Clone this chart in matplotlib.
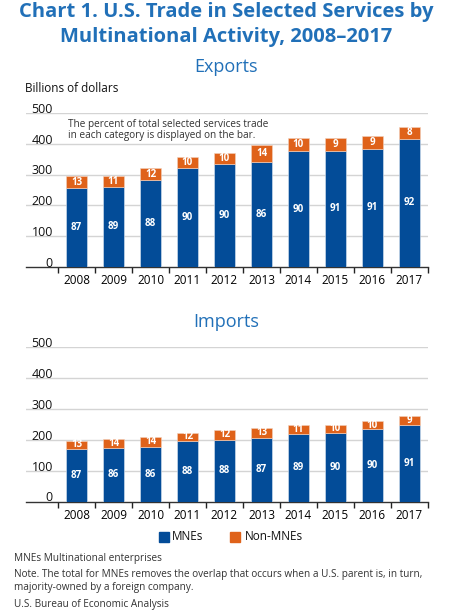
import numpy as np
import matplotlib.pyplot as plt

plt.rcParams['font.family'] = ['Open Sans', 'DejaVu Sans']

years = ['2008', '2009', '2010', '2011', '2012', '2013', '2014', '2015', '2016', '2017']

exp_mne = [256, 261, 282, 320, 333, 340, 375, 378, 384, 416]
exp_non = [38, 35, 38, 38, 38, 56, 43, 40, 40, 39]
exp_pct_mne = [87, 89, 88, 90, 90, 86, 90, 91, 91, 92]
exp_pct_non = [13, 11, 12, 10, 10, 14, 10, 9, 9, 8]

imp_mne = [171, 175, 178, 196, 201, 206, 220, 223, 235, 249]
imp_non = [26, 28, 31, 28, 30, 33, 28, 26, 26, 28]
imp_pct_mne = [87, 86, 86, 88, 88, 87, 89, 90, 90, 91]
imp_pct_non = [13, 14, 14, 12, 12, 13, 11, 10, 10, 9]

blue = '#034C98'
orange = '#DF621A'
title_blue = '#2170B8'

W, H = 452, 610
fig = plt.figure(figsize=(W / 100, H / 100), dpi=100)


def panel(bottom_px, top_px, mne, non, pct_mne, pct_non, show_note):
    ax = fig.add_axes([26 / W, 1 - bottom_px / H, (428 - 26) / W, (bottom_px - top_px) / H])
    x = np.arange(len(years))
    ax.bar(x, mne, width=0.59, color=blue, edgecolor='#dce6f2', linewidth=0.4, zorder=3)
    ax.bar(x, non, bottom=mne, width=0.59, color=orange, edgecolor='#f3d2bd', linewidth=0.4, zorder=3)
    for i in range(len(x)):
        ax.text(x[i], mne[i] / 2, str(pct_mne[i]), color='white', fontsize=7,
                fontweight='bold', ha='center', va='center', zorder=4)
        ax.text(x[i], mne[i] + non[i] / 2, str(pct_non[i]), color='white', fontsize=7,
                fontweight='bold', ha='center', va='center', zorder=4)
    left = -0.5 - 32 / 37
    ax.set_xlim(left, 9.5)
    ax.set_ylim(0, 500)
    for v in range(100, 501, 100):
        ax.axhline(v, color='#d4d4d4', lw=1, zorder=1)
    for v in range(0, 501, 100):
        ax.text(-0.64, v + 12, str(v), ha='right', va='center', fontsize=9, color='#111111')
    for s in ['top', 'right', 'left']:
        ax.spines[s].set_visible(False)
    ax.spines['bottom'].set_color('#333333')
    ax.spines['bottom'].set_linewidth(1)
    ax.set_yticks([])
    ax.set_xticks(np.arange(-0.5, 10, 1))
    ax.set_xticklabels([])
    ax.set_xticks(x, minor=True)
    ax.set_xticklabels(years, minor=True, fontsize=8.5)
    ax.tick_params(axis='x', which='major', length=4, width=1, color='#222222', direction='out')
    ax.tick_params(axis='x', which='minor', length=0, pad=5)
    if show_note:
        ax.text(-0.23, 482, 'The percent of total selected services trade\nin each category is displayed on the bar.',
                fontsize=7.2, color='#333333', va='top', ha='left', linespacing=1.1)
    return ax


fig.text(0.5, 1 - 12 / H, 'Chart 1. U.S. Trade in Selected Services by', ha='center', va='center',
         fontsize=14.5, fontweight='bold', color=title_blue)
fig.text(0.5, 1 - 37 / H, 'Multinational Activity, 2008\u20132017', ha='center', va='center',
         fontsize=14.5, fontweight='bold', color=title_blue)
fig.text(0.5, 1 - 67 / H, 'Exports', ha='center', va='center', fontsize=13, color=title_blue)
fig.text(25 / W, 1 - 88 / H, 'Billions of dollars', ha='left', va='center', fontsize=8.5, color='#111111')

panel(267, 113, exp_mne, exp_non, exp_pct_mne, exp_pct_non, True)

fig.text(0.5, 1 - 322 / H, 'Imports', ha='center', va='center', fontsize=13, color=title_blue)
panel(501.7, 347.3, imp_mne, imp_non, imp_pct_mne, imp_pct_non, False)

# legend
fig.patches.append(plt.Rectangle((159 / W, 1 - 542 / H), 10 / W, 10 / H, color=blue,
                                 transform=fig.transFigure, figure=fig))
fig.text(172 / W, 1 - 537 / H, 'MNEs', ha='left', va='center', fontsize=8.5, color='#111111')
fig.patches.append(plt.Rectangle((230 / W, 1 - 542 / H), 10 / W, 10 / H, color=orange,
                                 transform=fig.transFigure, figure=fig))
fig.text(245 / W, 1 - 537 / H, 'Non-MNEs', ha='left', va='center', fontsize=8.5, color='#111111')

notes_color = '#333333'
fig.text(14 / W, 1 - 559 / H, 'MNEs Multinational enterprises', fontsize=7.2, va='center', color=notes_color)
fig.text(14 / W, 1 - 581 / H,
         'Note. The total for MNEs removes the overlap that occurs when a U.S. parent is, in turn,\n'
         'majority-owned by a foreign company.', fontsize=7.2, va='center', color=notes_color,
         linespacing=1.25)
fig.text(14 / W, 1 - 604 / H, 'U.S. Bureau of Economic Analysis', fontsize=7.2, va='center', color=notes_color)

fig.savefig('out.png', dpi=100)
